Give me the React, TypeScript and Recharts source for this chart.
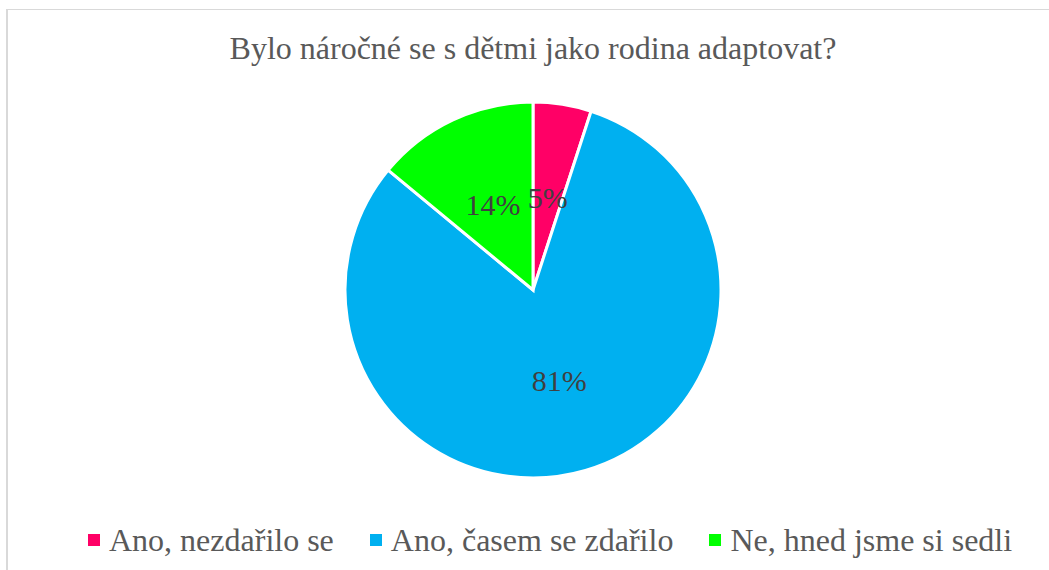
import { PieChart, Pie, Cell, Legend } from 'recharts'

const categories = ['Ano, nezdařilo se', 'Ano, časem se zdařilo', 'Ne, hned jsme si sedli']
const shares = [5, 81, 14]
const colors = ['#FF0066', '#00B0F0', '#00FF00']
const title = 'Bylo náročné se s dětmi jako rodina adaptovat?'

const data = categories.map((name, i) => ({ name, value: shares[i] }))

const RAD = Math.PI / 180
const FONT = '"Liberation Serif", "Times New Roman", serif'

const renderLabel = (p: any) => {
  const r = p.outerRadius * 0.5
  const x = p.cx + r * Math.cos(-p.midAngle * RAD)
  const y = p.cy + r * Math.sin(-p.midAngle * RAD)
  return (
    <text x={x} y={y} fill="#404040" textAnchor="middle" dominantBaseline="central"
      fontFamily={FONT} fontSize={30}>
      {`${p.value}%`}
    </text>
  )
}

const LegendContent = ({ payload }: any) => (
  <div style={{ display: 'flex', justifyContent: 'flex-start', paddingLeft: 83, gap: 36, fontFamily: FONT, fontSize: 32, color: '#595959', lineHeight: '36px' }}>
    {(payload || []).map((e: any) => (
      <div key={e.value} style={{ display: 'flex', alignItems: 'center', gap: 9 }}>
        <span style={{ width: 12, height: 12, background: e.color, display: 'inline-block' }} />
        <span>{e.value}</span>
      </div>
    ))}
  </div>
)

export default function App() {
  return (
    <div style={{ position: 'absolute', left: 0, top: 0, width: 1049, height: 570, background: '#fff', overflow: 'hidden' }}>
      <div style={{ position: 'absolute', left: 6, top: 9, width: 1100, height: 600, borderLeft: '2px solid #d9d9d9', borderTop: '1px solid #d9d9d9' }} />
      <div style={{ position: 'absolute', left: 0, top: 28, width: 1066, textAlign: 'center', fontFamily: FONT, fontSize: 32, color: '#595959', lineHeight: '40px' }}>
        {title}
      </div>
      <div style={{ position: 'absolute', left: 0, top: 0 }}>
        <PieChart width={1049} height={570}>
          <Pie
            data={data}
            dataKey="value"
            nameKey="name"
            cx={528}
            cy={285}
            outerRadius={188}
            startAngle={90}
            endAngle={-270}
            stroke="#fff"
            strokeWidth={3}
            label={renderLabel}
            labelLine={false}
            isAnimationActive={false}
          >
            {data.map((d, i) => <Cell key={d.name} fill={colors[i]} />)}
          </Pie>
          <Legend content={<LegendContent />} verticalAlign="bottom" wrapperStyle={{ bottom: 12 }} />
        </PieChart>
      </div>
    </div>
  )
}
